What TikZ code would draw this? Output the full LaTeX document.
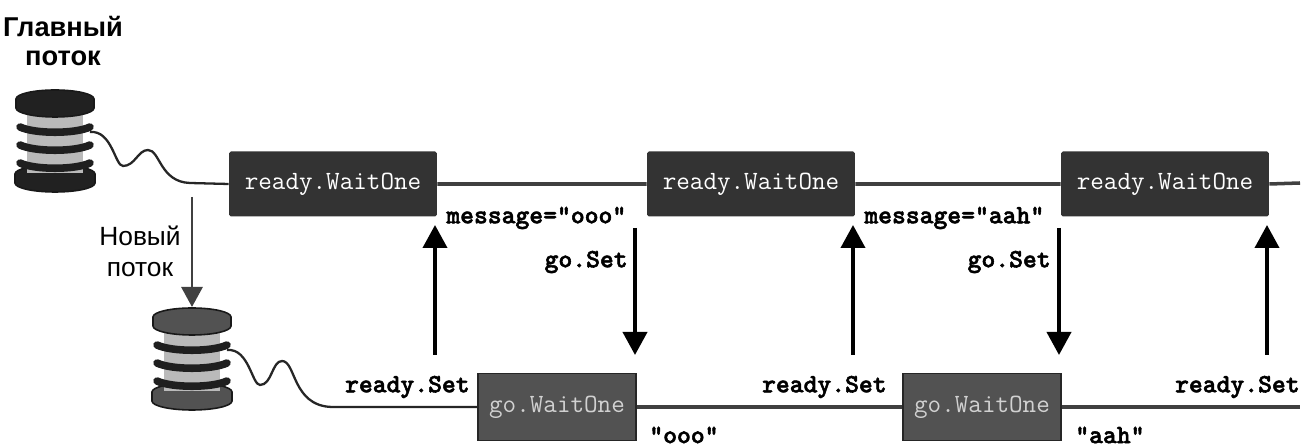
\documentclass[tikz,border=0pt]{standalone}
\usepackage{fontspec}
\newfontfamily\rusfont{Liberation Sans}
\newfontfamily\codefont{lmmonolt10-bold.otf}[FakeBold=2]
\usetikzlibrary{arrows.meta}

\begin{document}
\begin{tikzpicture}[x=0.02cm, y=-0.02cm,
  waitbox/.style={rectangle, fill=black!80, rounded corners=1pt, minimum width=4.16cm, minimum height=1.3cm, inner sep=0pt, text=white, font=\fontsize{15}{18}\selectfont\ttfamily},
  gobox/.style={rectangle, fill=black!68, draw=black!85, line width=0.8pt, minimum width=3.16cm, minimum height=1.34cm, inner sep=0pt, text=black!18, font=\fontsize{15}{18}\selectfont\ttfamily},
  code/.style={inner sep=0pt, font=\codefont\fontsize{15}{18}\selectfont},
  rus/.style={align=center, inner sep=0pt},
  line/.style={black!75, line width=2pt},
  thread/.style={black!85, line width=1.3pt},
  arr/.style={-{Triangle[width=0.48cm, length=0.46cm]}, line width=2.2pt},
  fork/.style={-{Triangle[width=0.42cm, length=0.4cm]}, black!75, line width=1.7pt},
  wrap/.style={line width=4.3pt, line cap=round},
  flange/.style={draw=black!90, line width=0.9pt},
  pics/spool/.style={code={
    % lower flange
    \filldraw[flange, fill=#1] (-40,33) arc[start angle=180, end angle=360, x radius=40, y radius=9]
      -- (40,42) arc[start angle=0, end angle=180, x radius=40, y radius=9] -- cycle;
    % core and the wound thread
    \fill[black!27] (-28,-30) rectangle (28,32);
    \foreach \yy in {-14,4,22}
      \draw[black!88, wrap] (-35,\yy) .. controls (-20,\yy+7) and (20,\yy+7) .. (35,\yy);
    % upper flange
    \filldraw[flange, fill=#1] (-39,-42) arc[start angle=180, end angle=360, x radius=39, y radius=9]
      -- (39,-33) arc[start angle=0, end angle=180, x radius=39, y radius=9] -- cycle;
    \coordinate (-out) at (35,-9);
    \coordinate (-top) at (0,-52);
  }}]
  \useasboundingbox (0,0) rectangle (1315,448);
  % main thread
  \node[rus, font=\rusfont\bfseries\fontsize{15.5}{17}\selectfont] (main) at (63,41) {Главный\\поток};
  \pic (s1) at (55,141) {spool=black!87};
  \node[waitbox] (w1) at (333,184) {ready.WaitOne};
  \node[waitbox] (w2) at (751,184) {ready.WaitOne};
  \node[waitbox] (w3) at (1165,184) {ready.WaitOne};
  \coordinate (mend) at (1300,183);
  \draw[thread] (s1-out) .. controls +(22,-2) and +(-8,0) .. ++(33,34)
    .. controls +(12,0) and +(-10,0) .. ++(25,-16)
    .. controls +(12,0) and +(-30,-1) .. ++(42,33) -- (w1.west);
  \draw[line] (w1.east) -- (w2.west) (w2.east) -- (w3.west) (w3.east) -- (mend);
  \node[code, anchor=west] (m1) at (446,218) {message="ooo"};
  \node[code, anchor=west] (m2) at (864,218) {message="aah"};
  \node[code, anchor=east] (gs1) at (628,262) {go.Set};
  \node[code, anchor=east] (gs2) at (1051,262) {go.Set};
  % new thread
  \coordinate (fork) at (192,197);
  \pic (s2) at (192,359) {spool=black!68};
  \draw[fork] (fork) -- (s2-top);
  \node[rus, font=\rusfont\fontsize{15}{17.6}\selectfont] (new) at (140,251) {Новый\\поток};
  \node[gobox] (g1) at (557,407) {go.WaitOne};
  \node[gobox] (g2) at (982,407) {go.WaitOne};
  \coordinate (nend) at (1300,407);
  \draw[thread] (s2-out) .. controls +(22,-2) and +(-8,0) .. ++(33,35)
    .. controls +(12,0) and +(-10,0) .. ++(22,-24)
    .. controls +(14,0) and +(-40,-1) .. ++(50,46) -- (g1.west);
  \draw[line] (g1.east) -- (g2.west) (g2.east) -- (nend);
  \node[code, anchor=east] (rs1) at (470,387) {ready.Set};
  \node[code, anchor=east] (rs2) at (887,387) {ready.Set};
  \node[code, anchor=east] (rs3) at (1300,387) {ready.Set};
  \node[code, anchor=west] (q1) at (649,435) {"ooo"};
  \node[code, anchor=west] (q2) at (1075,435) {"aah"};
  % signals between the threads
  \foreach \i/\xx in {1/435, 2/853, 3/1267} {
    \coordinate (rb\i) at (\xx,355);
    \coordinate (rt\i) at (\xx,225);
    \draw[arr] (rb\i) -- (rt\i);
  }
  \foreach \i/\xx in {1/635, 2/1059} {
    \coordinate (gt\i) at (\xx,228);
    \coordinate (gb\i) at (\xx,355);
    \draw[arr] (gt\i) -- (gb\i);
  }
\end{tikzpicture}
\end{document}
